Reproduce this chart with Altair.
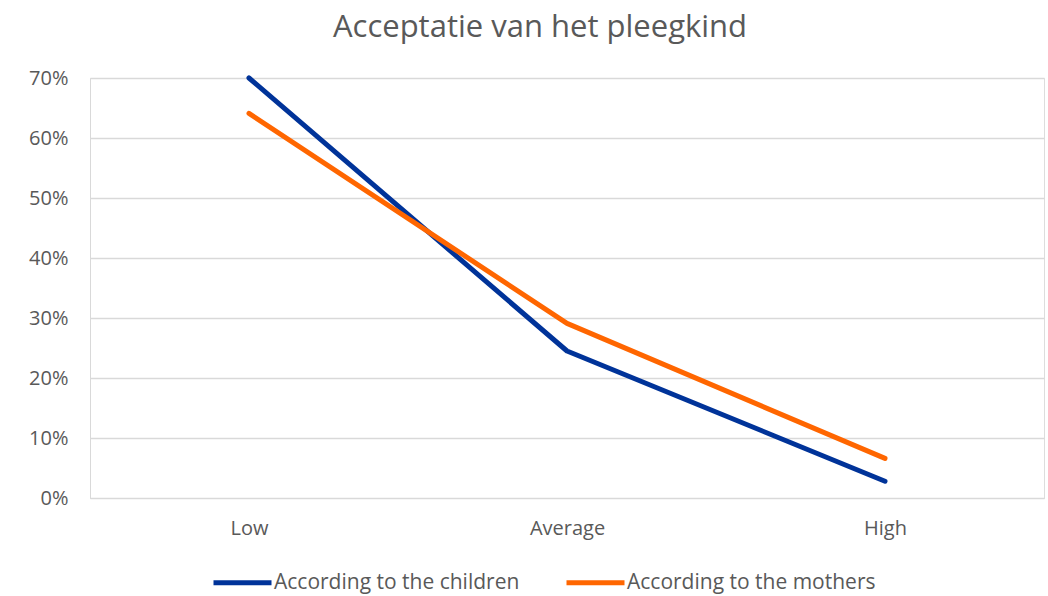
import altair as alt
import pandas as pd

categories = ["Low", "Average", "High"]
children = [0.70, 0.245, 0.028]
mothers = [0.641, 0.291, 0.066]
series_names = ["According to the children", "According to the mothers"]
colors = ["#003399", "#FF6600"]

rows = []
for name, vals in zip(series_names, [children, mothers]):
    for cat, v in zip(categories, vals):
        rows.append({"level": cat, "share": v, "series": name})
df = pd.DataFrame(rows)

font = "Open Sans"
grey = "#595959"

chart = (
    alt.Chart(df)
    .mark_line(strokeWidth=5, strokeCap="round", strokeJoin="round")
    .encode(
        x=alt.X(
            "level:N",
            sort=categories,
            title=None,
            scale=alt.Scale(paddingInner=0, paddingOuter=0.5),
            axis=alt.Axis(
                labelAngle=0, ticks=False, domain=True, domainColor="#d9d9d9",
                labelFontSize=20, labelColor=grey, labelFont=font, labelPadding=20,
                grid=False,
            ),
        ),
        y=alt.Y(
            "share:Q",
            title=None,
            scale=alt.Scale(domain=[0, 0.7], nice=False),
            axis=alt.Axis(
                format=".0%", values=[0, 0.1, 0.2, 0.3, 0.4, 0.5, 0.6, 0.7],
                ticks=False, domain=True, domainColor="#d9d9d9",
                gridColor="#d9d9d9", gridWidth=1.3,
                labelFontSize=20, labelColor=grey, labelFont=font, labelPadding=22,
            ),
        ),
        color=alt.Color(
            "series:N",
            scale=alt.Scale(domain=series_names, range=colors),
            legend=alt.Legend(
                title=None, orient="none", direction="horizontal",
                legendX=121, legendY=473,
                symbolType="stroke", symbolStrokeWidth=5, symbolSize=3364,
                labelFontSize=21, labelColor=grey, labelFont=font, labelLimit=0,
                columnPadding=36, labelOffset=0,
            ),
        ),
        detail="series:N",
    )
    .properties(
        width=954,
        height=420,
        title=alt.TitleParams(
            "Acceptatie van het pleegkind",
            font=font, fontSize=31, fontWeight="normal", color=grey,
            anchor="middle", offset=24, dx=-27,
        ),
        autosize=alt.AutoSizeParams(type="none"),
        padding={"left": 90, "top": 78, "right": 4, "bottom": 98},
    )
    .configure_view(stroke=None)
    .configure(background="white")
)

chart.save("out.html", embed_options={"renderer": "svg", "actions": False})
